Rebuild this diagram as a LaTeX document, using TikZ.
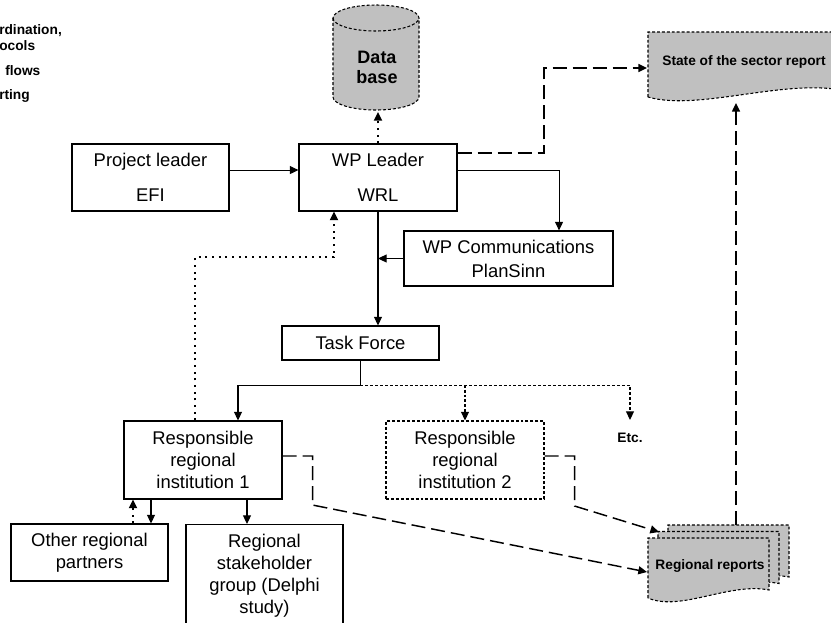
\documentclass[tikz,border=0pt]{standalone}
\usepackage{fontspec}
\setmainfont{Liberation Sans}
\usetikzlibrary{arrows.meta, calc}
\definecolor{repgray}{HTML}{C0C0C0}

\begin{document}
\begin{tikzpicture}[
  x=0.75pt, y=-0.75pt,
  >={Triangle[length=6.5pt, width=6pt]},
  every node/.style={font=\fontsize{13.8}{16.5}\selectfont, inner sep=0pt},
  box/.style={draw, line width=0.8pt, minimum width=117.75pt, minimum height=50.25pt, align=center},
  small/.style={font=\fontsize{10.3}{12}\selectfont\bfseries},
  flow/.style={->, line width=0.8pt},
  report/.style={->, line width=1.5pt, dash pattern=on 1.5pt off 3.5pt},
  branch/.style={->, line width=0.8pt, dash pattern=on 2.2pt off 1.5pt},
  data/.style={->, line width=1.1pt, dash pattern=on 10.5pt off 4.5pt},
  docline/.style={draw, line width=0.8pt, dash pattern=on 2.2pt off 1.5pt},
  docfill/.style={docline, fill=repgray},
]

\useasboundingbox (0,0) rectangle (831,622);

% Legend (cut off at the left edge)
\node[small, anchor=west, align=left] (leg1) at (-1,38) {rdination,\\ocols};
\node[small, anchor=west] (leg2) at (5,71) {flows};
\node[small, anchor=west] (leg3) at (-1,96) {rting};

% Database
\path[docfill] (333,18) -- (333,97) arc[start angle=180, end angle=360, x radius=32.25pt, y radius=9.75pt]
  -- (419,18) arc[start angle=0, end angle=180, x radius=32.25pt, y radius=9.75pt] -- cycle;
\path[docline] (333,18) arc[start angle=180, end angle=360, x radius=32.25pt, y radius=9.75pt];
\node[font=\fontsize{13.5}{15}\selectfont\bfseries, align=center] (db) at (377,67) {Data\\base};
\coordinate (dbb) at (378,112);

% State of the sector report
\path[docfill] (648,97) -- (648,32) -- (850,32) -- (850,92)
  .. controls (790,76) and (700,112) .. (648,97) -- cycle;
\node[small] (ssr) at (744,62) {State of the sector report};
\coordinate (ssrin) at (647,68);
\coordinate (ssrb) at (736,103);

% Regional reports (stack of three)
\foreach \dx/\dy in {20/-13, 10/-6.5, 0/0} {
  \path[docfill, shift={(\dx,\dy)}] (648,598) -- (648,538) -- (769,538) -- (769,590)
    .. controls (730,582) and (680,612) .. (648,598) -- cycle;
}
\node[small] (rrep) at (710,566) {Regional reports};
\coordinate (rrin) at (647,572);
\coordinate (rrmid) at (659,532);
\coordinate (rrtop) at (736,525);

% Boxes
\node[box] (pl) at (150.5,177.5) {Project leader\\[9.75pt]EFI};
\node[box, minimum width=118.5pt] (wpl) at (378,177.5) {WP Leader\\[9.75pt]WRL};
\node[box, minimum width=156.75pt, minimum height=41.25pt] (wpc) at (508.5,258.5) {WP Communications\\[1.5pt]PlanSinn};
\node[box, minimum height=25.5pt] (tf) at (360.5,343) {Task Force};
\node[box, minimum width=118.5pt, minimum height=58.5pt] (rri1) at (203,460) {Responsible\\regional\\institution 1};
\node[box, minimum width=118.5pt, minimum height=58.5pt, dash pattern=on 2.2pt off 1.5pt] (rri2) at (465,460) {Responsible\\regional\\institution 2};
\node[small] (etc) at (630,438) {Etc.};
\node[box, minimum height=42.75pt] (orp) at (89.5,552.5) {Other regional\\partners};
\node[box, anchor=north, minimum height=77.25pt] (rsg) at (264.5,524) {Regional\\stakeholder\\group (Delphi\\study)};

% Coordination
\draw[flow] ([yshift=5.6pt]pl.east) -- ([yshift=5.6pt]wpl.west);
\draw[flow] ([yshift=5.6pt]wpl.east) -| ([xshift=37.9pt]wpc.north);
\draw[flow] (wpl.south) -- (wpl.south |- tf.north);
\draw[flow] (wpc.west) -- (wpc.west -| wpl.south);
\coordinate (split) at ($(tf.south)+(0,25)$);
\draw[flow] (tf.south) -- (split) -| ([xshift=26.25pt]rri1.north);
\draw[branch] (split) -| (rri2.north);
\draw[branch] (split) -| ([yshift=9.75pt]etc.north);
\draw[flow] ([xshift=-39pt]rri1.south) -- ([xshift=-39pt]rri1.south |- orp.north);
\draw[flow] ([xshift=33pt]rri1.south) -- ([xshift=33pt]rri1.south |- rsg.north);

% Reporting
\draw[report] (wpl.north) -- (dbb);
\draw[report] ([xshift=-6pt]rri1.north) -- ++(0,-163) -| ([xshift=-33pt]wpl.south);
\draw[report] ([xshift=-52.5pt]rri1.south |- orp.north) -- ([xshift=-52.5pt]rri1.south);

% Data flows
\draw[data] ([yshift=18.4pt]wpl.east) -| ($(ssrin)+(-103,0)$) -- (ssrin);
\draw[data] ([yshift=3pt]rri1.east) -- ++(30,0) -- ++(0,49) -- (rrin);
\draw[data] ([yshift=3pt]rri2.east) -- ++(30,0) -- ++(0,50) -- (rrmid);
\draw[data] (rrtop) -- (ssrb);

\end{tikzpicture}
\end{document}
